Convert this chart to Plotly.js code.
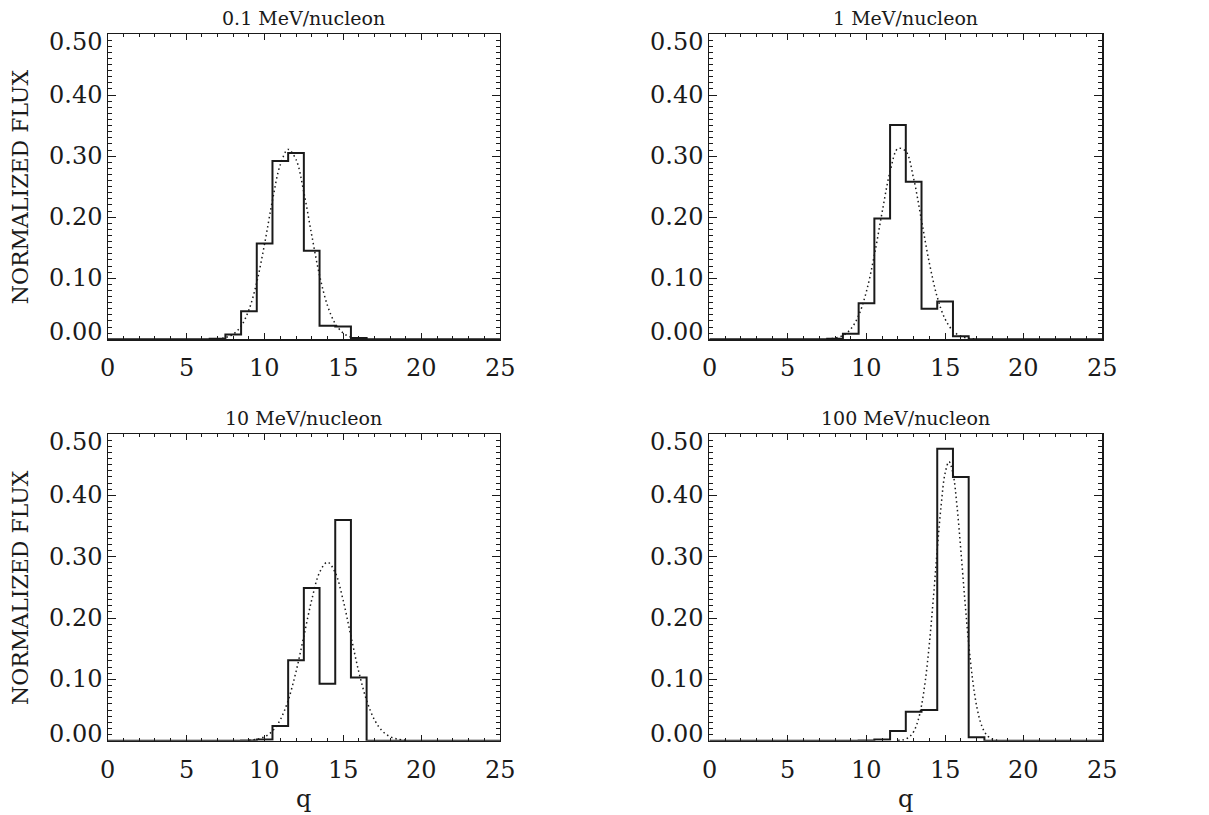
<!DOCTYPE html>
<html><head><meta charset="utf-8">
<script src="https://cdn.plot.ly/plotly-3.0.1.min.js"></script>
<style>html,body{margin:0;padding:0;background:#fff}#chart{width:1209px;height:815px}</style>
</head><body><div id="chart"></div>
<script>
// ---- data ----
const q = [0,1,2,3,4,5,6,7,8,9,10,11,12,13,14,15,16,17,18,19,20,21,22,23,24,25];
const flux01  = [0,0,0,0,0,0,0,0.001,0.008,0.046,0.157,0.292,0.305,0.145,0.022,0.021,0.002,0,0,0,0,0,0,0,0,0];
const flux1   = [0,0,0,0,0,0,0,0,0.001,0.009,0.059,0.198,0.351,0.258,0.050,0.062,0.005,0,0,0,0,0,0,0,0,0];
const flux10  = [0,0,0,0,0,0,0,0,0,0.0005,0.002,0.024,0.131,0.249,0.093,0.360,0.103,0,0,0,0,0,0,0,0,0];
const flux100 = [0,0,0,0,0,0,0,0,0,0,0.0005,0.002,0.016,0.047,0.050,0.476,0.430,0.0055,0,0,0,0,0,0,0,0];

const fitQ01 = [7,7.5,8,8.5,9,9.5,10,10.5,11,11.5,12,12.5,13,13.5,14,14.5,15,15.5,16,16.5];
const fit01  = [0.0008,0.0028,0.0084,0.0216,0.0483,0.0934,0.1566,0.2274,0.286,0.311,0.2944,0.2408,0.1707,0.1048,0.0558,0.0257,0.0103,0.0035,0.0011,0.0003];
const fitQ1  = [7.5,8,8.5,9,9.5,10,10.5,11,11.5,12,12.5,13,13.5,14,14.5,15,15.5,16,16.5,17];
const fit1   = [0.0006,0.002,0.0062,0.0168,0.039,0.0788,0.1379,0.209,0.2746,0.3124,0.308,0.263,0.1946,0.1247,0.0692,0.0333,0.0139,0.005,0.0016,0.0004];
const fitQ10 = [9,9.5,10,10.5,11,11.5,12,12.5,13,13.5,14,14.5,15,15.5,16,16.5,17,17.5,18,18.5,19];
const fit10  = [0.0008,0.0024,0.0065,0.0158,0.0342,0.0658,0.1124,0.1704,0.2294,0.2742,0.291,0.2742,0.2294,0.1704,0.1124,0.0658,0.0342,0.0158,0.0065,0.0024,0.0008];
const fitQ100 = [12,12.25,12.5,12.75,13,13.25,13.5,13.75,14,14.25,14.5,14.75,15,15.25,15.5,15.75,16,16.25,16.5,16.75,17,17.25,17.5,17.75,18,18.25,18.5];
const fit100  = [0.0004,0.001,0.0027,0.0066,0.0148,0.0304,0.0573,0.0994,0.1583,0.2314,0.311,0.3842,0.4362,0.455,0.4362,0.3842,0.311,0.2314,0.1583,0.0994,0.0573,0.0304,0.0148,0.0066,0.0027,0.001,0.0004];

const titles = ['0.1 MeV/nucleon','1 MeV/nucleon','10 MeV/nucleon','100 MeV/nucleon'];
const xTickVals = [0,5,10,15,20,25];
const xTickText = ['0','5','10','15','20','25'];
const yTickVals = [0,0.1,0.2,0.3,0.4,0.5];
const yTickText = ['0.00','0.10','0.20','0.30','0.40','0.50'];
const yTitle = 'NORMALIZED FLUX';
const xTitle = 'q';

// ---- layout ----
const W = 1209, H = 815;
const FONT = 'DejaVu Serif';
const INK = '#1a1a1a';
const panels = [
  {flux: flux01,  fq: fitQ01,  fv: fit01,  x0:107.7, x1:500,   y0:34,  y1:339.3},
  {flux: flux1,   fq: fitQ1,   fv: fit1,   x0:709.3, x1:1102.3,y0:34,  y1:339.3},
  {flux: flux10,  fq: fitQ10,  fv: fit10,  x0:107.7, x1:500,   y0:434, y1:740.7},
  {flux: flux100, fq: fitQ100, fv: fit100, x0:709.3, x1:1102.3,y0:434, y1:740.7}
];

const data = [];
const layout = {
  width: W, height: H, autosize: false,
  margin: {l:0, r:0, t:0, b:0, pad:0},
  paper_bgcolor: '#fff', plot_bgcolor: '#fff',
  showlegend: false,
  annotations: []
};

panels.forEach((p, i) => {
  const n = i === 0 ? '' : String(i + 1);
  const xa = 'x' + n, ya = 'y' + n;
  data.push({x: q, y: p.flux, xaxis: xa, yaxis: ya, type: 'scatter', mode: 'lines',
             line: {shape: 'hvh', color: INK, width: 2}, hoverinfo: 'skip'});
  data.push({x: p.fq, y: p.fv, xaxis: xa, yaxis: ya, type: 'scatter', mode: 'lines',
             line: {shape: 'spline', smoothing: 1, color: INK, width: 1.5, dash: '1.5px,3px'}, hoverinfo: 'skip'});
  layout['xaxis' + n] = {
    domain: [p.x0 / W, p.x1 / W], anchor: ya, range: [0, 25],
    tickmode: 'linear', tick0: 0, dtick: 5, showticklabels: false,
    ticks: 'inside', ticklen: 6, tickwidth: 1, tickcolor: INK,
    showline: true, linecolor: INK, linewidth: 1.2, mirror: 'allticks',
    minor: {dtick: 1, tick0: 0, ticks: 'inside', ticklen: 3, tickwidth: 1, tickcolor: INK},
    showgrid: false, zeroline: false, fixedrange: true
  };
  layout['yaxis' + n] = {
    domain: [1 - p.y1 / H, 1 - p.y0 / H], anchor: xa, range: [0, 0.5],
    tickmode: 'linear', tick0: 0, dtick: 0.1, showticklabels: false,
    ticks: 'inside', ticklen: 8, tickwidth: 1, tickcolor: INK,
    showline: true, linecolor: INK, linewidth: 1.2, mirror: 'allticks',
    minor: {dtick: 0.01, tick0: 0, ticks: 'inside', ticklen: 4, tickwidth: 1, tickcolor: INK},
    showgrid: false, zeroline: false, fixedrange: true
  };
  // y tick labels
  yTickVals.forEach((v, k) => {
    let ys = 0;
    if (k === 0) ys = 7;
    if (k === yTickVals.length - 1) ys = -8;
    layout.annotations.push({xref: xa + ' domain', yref: ya, x: 0, y: v, xanchor: 'right', yanchor: 'middle',
      xshift: -5, yshift: ys, showarrow: false, text: yTickText[k], borderpad: 0,
      font: {family: FONT, size: 24, color: INK}});
  });
  // x tick labels
  xTickVals.forEach((v, k) => {
    layout.annotations.push({xref: xa, yref: ya + ' domain', x: v, y: 0, xanchor: 'center', yanchor: 'middle',
      yshift: -29, showarrow: false, text: xTickText[k], borderpad: 0,
      font: {family: FONT, size: 24, color: INK}});
  });
  // panel title
  layout.annotations.push({xref: xa + ' domain', yref: ya + ' domain', x: 0.5, y: 1, xanchor: 'center', yanchor: 'middle',
    yshift: 16, showarrow: false, text: titles[i], borderpad: 0, font: {family: FONT, size: 19, color: INK}});
  // y title on left panels
  if (i % 2 === 0) {
    layout.annotations.push({xref: 'paper', yref: ya + ' domain', x: 20.7 / W, y: 0.5, xanchor: 'center', yanchor: 'middle',
      textangle: -90, showarrow: false, text: yTitle, borderpad: 0, font: {family: FONT, size: 22, color: INK}});
  }
  // x title on bottom panels
  if (i >= 2) {
    layout.annotations.push({xref: xa + ' domain', yref: 'paper', x: 0.5, y: 1 - 799 / H, xanchor: 'center', yanchor: 'middle',
      showarrow: false, text: xTitle, borderpad: 0, font: {family: FONT, size: 24, color: INK}});
  }
});

Plotly.newPlot('chart', data, layout, {staticPlot: true, displayModeBar: false});
</script>
</body></html>
